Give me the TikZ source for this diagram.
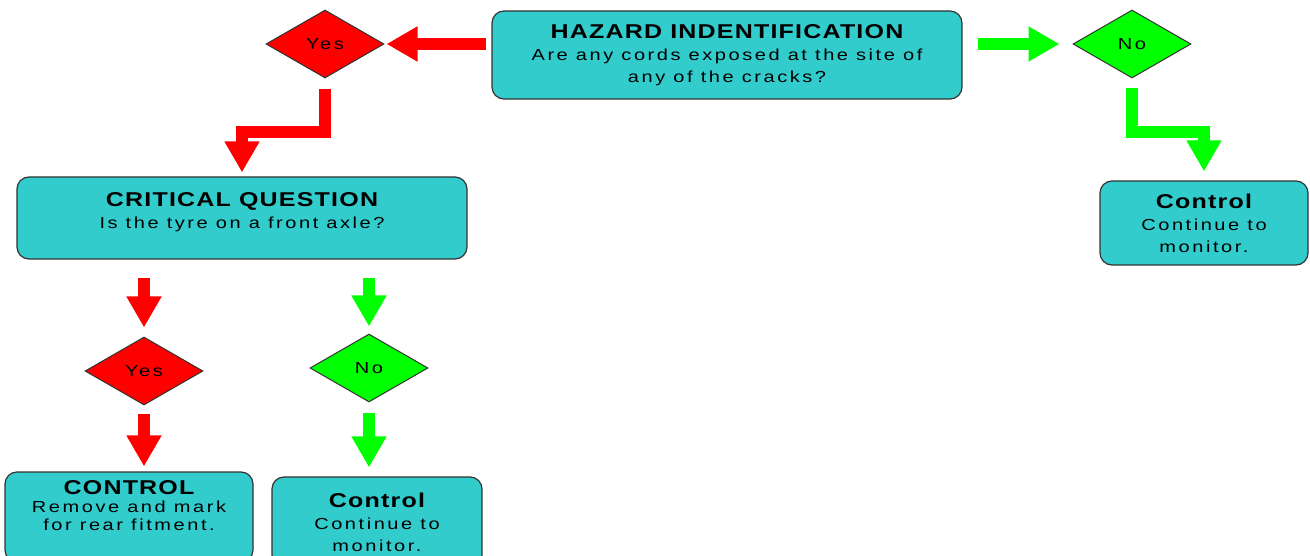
\documentclass[tikz,border=0pt]{standalone}
\usepackage{fontspec}
\usetikzlibrary{arrows.meta, shapes.geometric}
\newfontfamily\bodyfont[FakeStretch=1.25,LetterSpace=16]{Liberation Sans}
\newfontfamily\headfont[FakeStretch=1.25,LetterSpace=6]{Liberation Sans}
\definecolor{boxteal}{RGB}{51,204,204}
\definecolor{yesred}{RGB}{255,0,0}
\definecolor{nogreen}{RGB}{0,255,0}

\begin{document}
\begin{tikzpicture}[x=1pt, y=-1pt,
    box/.style={rectangle, draw=black!80, line width=1.2pt, rounded corners=12pt,
                fill=boxteal, align=center, inner sep=0pt,
                font=\bodyfont\fontsize{16}{22}\selectfont},
    choice/.style={diamond, draw=black!80, line width=1pt, inner sep=0pt,
                   minimum width=118pt, minimum height=68pt,
                   font=\bodyfont\fontsize{16}{18}\selectfont},
    fat/.style={line width=12pt, -{Triangle[length=31pt,width=33pt]}, miter limit=10},
    yesarr/.style={fat, yesred},
    noarr/.style={fat, nogreen},
]
\useasboundingbox (0,0) rectangle (1310,556);
\clip (0,0) rectangle (1310,556);

\node[box, minimum width=470pt, minimum height=88pt] (hazard) at (727,55)
    {{\headfont\bfseries\fontsize{20}{22}\selectfont HAZARD INDENTIFICATION}\\Are any cords exposed at the site of\\any of the cracks?};
\node[choice, fill=yesred]  (yes1) at (325,44)  {Yes};
\node[choice, fill=nogreen] (no1)  at (1132,44) {No};

\node[box, minimum width=450pt, minimum height=82pt] (crit) at (242,218)
    {{\headfont\bfseries\fontsize{20}{22}\selectfont CRITICAL QUESTION}\\Is the tyre on a front axle?\\[-8pt]\mbox{}};
\node[box, minimum width=208pt, minimum height=84pt] (ctrlR) at (1204,223)
    {{\headfont\bfseries\fontsize{20}{22}\selectfont Control}\\Continue to\\monitor.};

\node[choice, fill=yesred]  (yes2) at (144,371) {Yes};
\node[choice, fill=nogreen] (no2)  at (369,368) {No};

\node[box, minimum width=248pt, minimum height=90pt,
      font=\bodyfont\fontsize{16}{18}\selectfont] (ctrlA) at (129,517)
    {{\headfont\bfseries\fontsize{20}{20}\selectfont CONTROL}\\Remove and mark\\for rear fitment.\\[4pt]\mbox{}};
\node[box, minimum width=210pt, minimum height=90pt] (ctrlB) at (377,522)
    {{\headfont\bfseries\fontsize{20}{22}\selectfont Control}\\Continue to\\monitor.};

% top row
\draw[yesarr, shorten <=5pt, shorten >=2pt] (hazard.west |- yes1.east) -- (yes1.east);
\draw[noarr, shorten <=15pt, shorten >=13pt] (hazard.east |- no1.west) -- (no1.west);
\draw[yesarr, shorten <=11pt, shorten >=4pt] (yes1.south) -- ++(0,54) -| (crit.north);
\draw[noarr, shorten <=10pt, shorten >=9pt] (no1.south) -- ++(0,54) -| (ctrlR.north);

% critical question branches
\draw[yesarr, shorten <=18pt, shorten >=9pt] (crit.south -| yes2.north) -- (yes2.north);
\draw[yesarr, shorten <=8pt, shorten >=5pt] (yes2.south) -- (yes2.south |- ctrlA.north);
\draw[noarr, shorten <=18pt, shorten >=7pt] (crit.south -| no2.north) -- (no2.north);
\draw[noarr, shorten <=10pt, shorten >=9pt] (no2.south) -- (no2.south |- ctrlB.north);
\end{tikzpicture}
\end{document}
